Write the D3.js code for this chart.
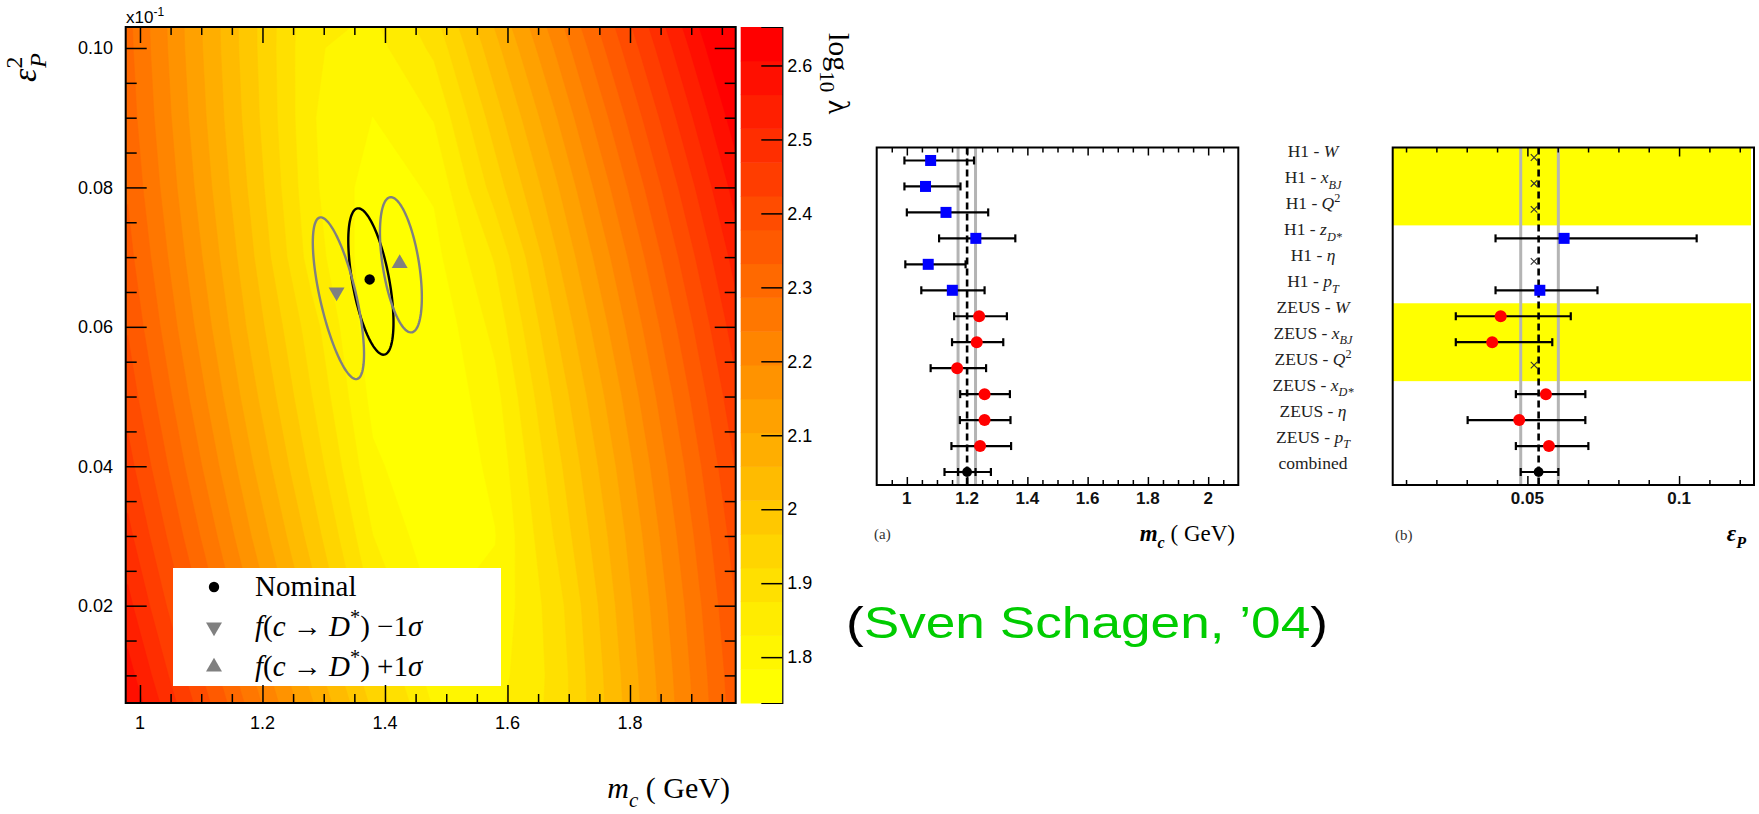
<!DOCTYPE html>
<html>
<head>
<meta charset="utf-8">
<script src="https://cdn.jsdelivr.net/npm/d3@7"></script>
<style>
  html, body { margin: 0; padding: 0; background: #fff; overflow: hidden; }
  svg { display: block; }
  text { font-family: "Liberation Sans", Arial, sans-serif; }
  .serif { font-family: "Liberation Serif", "DejaVu Serif", serif; }
</style>
</head>
<body>
<svg id="fig" width="1759" height="814"></svg>
<script>
// ---------------- data ----------------
// log10(lambda) landscape sampled on an (m_c, eps_P) grid; rows run from high eps to low eps
const gridM = [0.98, 1.08, 1.18, 1.28, 1.38, 1.48, 1.58, 1.68, 1.78, 1.88, 1.98, 2.08];
const gridEps = [0.11, 0.10, 0.09, 0.08, 0.07, 0.06, 0.05, 0.04, 0.03, 0.02, 0.01, 0.00];
const logLambda = [
  [2.295, 2.133, 1.981, 1.845, 1.845, 1.945, 2.102, 2.263, 2.427, 2.594, 2.762, 2.930],
  [2.301, 2.138, 1.983, 1.835, 1.810, 1.885, 2.043, 2.202, 2.367, 2.533, 2.700, 2.868],
  [2.311, 2.148, 1.990, 1.833, 1.783, 1.832, 1.990, 2.147, 2.311, 2.477, 2.644, 2.812],
  [2.327, 2.163, 2.004, 1.839, 1.760, 1.790, 1.942, 2.097, 2.260, 2.425, 2.592, 2.760],
  [2.348, 2.184, 2.023, 1.853, 1.754, 1.768, 1.880, 2.053, 2.214, 2.379, 2.546, 2.714],
  [2.374, 2.209, 2.047, 1.895, 1.752, 1.745, 1.844, 2.013, 2.174, 2.338, 2.505, 2.672],
  [2.405, 2.240, 2.077, 1.922, 1.769, 1.740, 1.814, 1.979, 2.138, 2.302, 2.469, 2.636],
  [2.441, 2.275, 2.112, 1.954, 1.794, 1.742, 1.795, 1.951, 2.108, 2.271, 2.437, 2.605],
  [2.483, 2.316, 2.152, 1.993, 1.830, 1.752, 1.782, 1.928, 2.083, 2.246, 2.411, 2.578],
  [2.529, 2.362, 2.198, 2.037, 1.870, 1.780, 1.795, 1.900, 2.064, 2.225, 2.390, 2.557],
  [2.580, 2.413, 2.248, 2.087, 1.935, 1.805, 1.810, 1.890, 2.049, 2.210, 2.374, 2.541],
  [2.637, 2.469, 2.304, 2.141, 1.988, 1.850, 1.828, 1.890, 2.040, 2.199, 2.363, 2.529]
];
const zMin = 1.738, zMax = 2.652, nLevels = 20;
const colorbarTicks = [1.8, 1.9, 2, 2.1, 2.2, 2.3, 2.4, 2.5, 2.6];
const mcTicks = [1, 1.2, 1.4, 1.6, 1.8];
const epsTicks = [0.02, 0.04, 0.06, 0.08, 0.10];

// fit results: nominal and f(c->D*) varied by -1 sigma / +1 sigma
const fitNames   = ["nominal", "minus", "plus"];
const fitMc      = [1.375, 1.321, 1.424];
const fitEps     = [0.0668, 0.0650, 0.0691];
const ellMc      = [1.377, 1.324, 1.426];
const ellEps     = [0.0665, 0.0641, 0.0689];
const ellSigMc   = [0.0369, 0.0418, 0.0342];
const ellSigEps  = [0.0105, 0.0116, 0.0097];
const ellRho     = [-0.56, -0.69, -0.48];

// per-distribution fits
const rowKind = ["H1","H1","H1","H1","H1","H1","ZEUS","ZEUS","ZEUS","ZEUS","ZEUS","ZEUS","comb"];
const mcVal = [1.079, 1.062, 1.130, 1.229, 1.071, 1.151, 1.240, 1.232, 1.167, 1.258, 1.258, 1.243, 1.200];
const mcLo  = [0.992, 0.992, 1.000, 1.107, 0.995, 1.048, 1.157, 1.150, 1.079, 1.177, 1.176, 1.148, 1.125];
const mcHi  = [1.223, 1.178, 1.270, 1.360, 1.195, 1.258, 1.332, 1.320, 1.263, 1.342, 1.344, 1.346, 1.279];
const mcCombinedBand = [1.170, 1.228];
const mcTicksA = [1, 1.2, 1.4, 1.6, 1.8, 2];

const epsVal = [null, null, null, 0.0621, null, 0.0541, 0.0412, 0.0384, null, 0.0561, 0.0473, 0.0571, 0.0537];
const epsLo  = [null, null, null, 0.0395, null, 0.0395, 0.0264, 0.0264, null, 0.0462, 0.0303, 0.0462, 0.0478];
const epsHi  = [null, null, null, 0.1058, null, 0.0731, 0.0643, 0.0582, null, 0.0691, 0.0691, 0.0701, 0.0602];
const epsFixed = 0.0522;
const epsCombinedBand = [0.0478, 0.0602];
const shadedRows = [[0, 2], [6, 8]];
const epsTicksB = [0.05, 0.1];

const rowLabels = [
  [{t:"H1 - "}, {t:"W", i:1}],
  [{t:"H1 - "}, {t:"x", i:1}, {t:"BJ", i:1, sub:1}],
  [{t:"H1 - "}, {t:"Q", i:1}, {t:"2", sup:1}],
  [{t:"H1 - "}, {t:"z", i:1}, {t:"D*", i:1, sub:1}],
  [{t:"H1 - "}, {t:"η", i:1}],
  [{t:"H1 - "}, {t:"p", i:1}, {t:"T", i:1, sub:1}],
  [{t:"ZEUS - "}, {t:"W", i:1}],
  [{t:"ZEUS - "}, {t:"x", i:1}, {t:"BJ", i:1, sub:1}],
  [{t:"ZEUS - "}, {t:"Q", i:1}, {t:"2", sup:1}],
  [{t:"ZEUS - "}, {t:"x", i:1}, {t:"D*", i:1, sub:1}],
  [{t:"ZEUS - "}, {t:"η", i:1}],
  [{t:"ZEUS - "}, {t:"p", i:1}, {t:"T", i:1, sub:1}],
  [{t:"combined"}]
];

// ---------------- helpers ----------------
const svg = d3.select("#fig");

function rich(sel, segs, fs) {
  let shift = 0;
  segs.forEach(s => {
    const target = s.sub ? fs * 0.3 : s.sup ? -fs * 0.42 : 0;
    const ts = sel.append("tspan").text(s.t).attr("dy", target - shift);
    if (s.dx) ts.attr("dx", s.dx);
    shift = target;
    if (s.sub || s.sup) ts.attr("font-size", fs * 0.7);
    if (s.i) ts.attr("font-style", "italic");
    if (s.b) ts.attr("font-weight", "bold");
  });
  return sel;
}

function tickRow(g, axisFn, scale, values, size) {
  g.call(axisFn(scale).tickValues(values).tickSize(size).tickFormat(""));
  g.select(".domain").remove();
  g.selectAll(".tick line").attr("stroke", "#000").attr("stroke-width", 1.5);
}

// ---------------- left panel: log10(lambda) landscape ----------------
const L = {left: 125.7, right: 735.7, top: 27, bottom: 703};
const x = d3.scaleLinear().domain([0.9767, 1.9726]).range([L.left, L.right]);
const y = d3.scaleLinear().domain([0.00604, 0.10301]).range([L.bottom, L.top]);
const zStep = (zMax - zMin) / nLevels;
const levelColor = k => d3.rgb(255, Math.round(255 * (1 - Math.pow(k / (nLevels - 1), 1.15))), 0).toString();

svg.append("defs").append("clipPath").attr("id", "landClip")
  .append("rect").attr("x", L.left).attr("y", L.top)
  .attr("width", L.right - L.left).attr("height", L.bottom - L.top);

const land = svg.append("g").attr("clip-path", "url(#landClip)");
land.append("rect").attr("x", L.left).attr("y", L.top)
  .attr("width", L.right - L.left).attr("height", L.bottom - L.top)
  .attr("fill", levelColor(0));

const nx = gridM.length, ny = gridEps.length;
const dM = gridM[1] - gridM[0], dE = gridEps[0] - gridEps[1];
const thresholds = d3.range(1, nLevels).map(k => zMin + k * zStep);
const bands = d3.contours().size([nx, ny]).thresholds(thresholds)(logLambda.flat());
const gridToPx = d3.geoTransform({
  point(u, v) {
    this.stream.point(x(gridM[0] + (u - 0.5) * dM), y(gridEps[0] - (v - 0.5) * dE));
  }
});
const bandPath = d3.geoPath(gridToPx);
land.selectAll("path.band").data(bands).join("path")
  .attr("class", "band")
  .attr("d", bandPath)
  .attr("fill", (d, i) => levelColor(i + 1))
  .attr("stroke", (d, i) => levelColor(i + 1))
  .attr("stroke-width", 0.6);

// fit ellipses
const ellColor = ["#000", "#808080", "#808080"];
const ellLine = d3.line().curve(d3.curveLinearClosed);
const ang = d3.range(0, 360, 3).map(a => a * Math.PI / 180);
fitNames.forEach((n, k) => {
  const delta = Math.acos(ellRho[k]);
  const pts = ang.map(t => [
    x(ellMc[k] + ellSigMc[k] * Math.cos(t)),
    y(ellEps[k] + ellSigEps[k] * Math.cos(t - delta))
  ]);
  land.append("path").attr("d", ellLine(pts)).attr("fill", "none")
    .attr("stroke", ellColor[k]).attr("stroke-width", 2.4);
});

const triUp = d3.symbol().type(d3.symbolTriangle).size(110);
function drawFitMarker(g, k, px, py) {
  if (k === 0) {
    g.append("circle").attr("cx", px).attr("cy", py).attr("r", 5.2).attr("fill", "#000");
  } else {
    g.append("path").attr("d", triUp())
      .attr("transform", `translate(${px},${py})` + (k === 1 ? " rotate(180)" : ""))
      .attr("fill", "#808080");
  }
}
fitNames.forEach((n, k) => drawFitMarker(land, k, x(fitMc[k]), y(fitEps[k])));

// legend
const leg = svg.append("g");
leg.append("rect").attr("x", 173).attr("y", 568).attr("width", 328).attr("height", 118).attr("fill", "#fff");
const legRows = [
  [{t:"Nominal"}],
  [{t:"f", i:1}, {t:"("}, {t:"c", i:1}, {t:" → "}, {t:"D", i:1}, {t:"*", sup:1}, {t:") −1"}, {t:"σ", i:1}],
  [{t:"f", i:1}, {t:"("}, {t:"c", i:1}, {t:" → "}, {t:"D", i:1}, {t:"*", sup:1}, {t:") +1"}, {t:"σ", i:1}]
];
const legY = [587, 627, 667];
legRows.forEach((segs, k) => {
  drawFitMarker(leg, k, 214, legY[k]);
  rich(leg.append("text").attr("class", "serif").attr("x", 255).attr("y", legY[k] + 9)
    .attr("font-size", 29).attr("fill", "#000"), segs, 29);
});

// ticks on all four sides
const mcMinor = d3.range(20, 40).map(i => i * 0.05).filter(v => v <= 1.9726 && !mcTicks.some(t => Math.abs(t - v) < 1e-9));
const epsMinor = d3.range(2, 21).map(i => i * 0.005).filter(v => !epsTicks.some(t => Math.abs(t - v) < 1e-9));
tickRow(svg.append("g").attr("transform", `translate(0,${L.bottom})`), d3.axisBottom, x, mcTicks, -18);
tickRow(svg.append("g").attr("transform", `translate(0,${L.bottom})`), d3.axisBottom, x, mcMinor, -9);
tickRow(svg.append("g").attr("transform", `translate(0,${L.top})`), d3.axisTop, x, mcTicks, -16);
tickRow(svg.append("g").attr("transform", `translate(0,${L.top})`), d3.axisTop, x, mcMinor, -8);
tickRow(svg.append("g").attr("transform", `translate(${L.left},0)`), d3.axisLeft, y, epsTicks, -21);
tickRow(svg.append("g").attr("transform", `translate(${L.left},0)`), d3.axisLeft, y, epsMinor, -11);
tickRow(svg.append("g").attr("transform", `translate(${L.right},0)`), d3.axisRight, y, epsTicks, -21);
tickRow(svg.append("g").attr("transform", `translate(${L.right},0)`), d3.axisRight, y, epsMinor, -11);

svg.append("rect").attr("x", L.left).attr("y", L.top)
  .attr("width", L.right - L.left).attr("height", L.bottom - L.top)
  .attr("fill", "none").attr("stroke", "#000").attr("stroke-width", 2);

svg.append("g").selectAll("text").data(mcTicks).join("text")
  .attr("x", d => x(d)).attr("y", 729).attr("text-anchor", "middle")
  .attr("font-size", 18).attr("fill", "#000").text(d => d);
svg.append("g").selectAll("text").data(epsTicks).join("text")
  .attr("x", 113).attr("y", d => y(d) + 6.5).attr("text-anchor", "end")
  .attr("font-size", 18).attr("fill", "#000").text(d => d3.format(".2f")(d));

const mult = svg.append("text").attr("x", 126).attr("y", 23).attr("font-size", 17).attr("fill", "#000");
mult.append("tspan").text("x10");
mult.append("tspan").text("-1").attr("font-size", 12).attr("dy", -7);

rich(svg.append("text").attr("class", "serif").attr("x", 730).attr("y", 798)
  .attr("text-anchor", "end").attr("font-size", 30).attr("fill", "#000"),
  [{t:"m", i:1}, {t:"c", i:1, sub:1}, {t:" ( GeV)"}], 30);

rich(svg.append("text").attr("class", "serif")
  .attr("transform", "translate(36,82) rotate(-90)")
  .attr("font-size", 34).attr("fill", "#000"),
  [{t:"ε", i:1}, {t:"2", sup:1}, {t:"P", i:1, sub:1, dx:-11}], 34);

// colour bar
const CB = {left: 740.7, right: 782.3};
const cy = d3.scaleLinear().domain([zMin, zMax]).range([L.bottom, L.top]);
svg.append("g").selectAll("rect").data(d3.range(nLevels)).join("rect")
  .attr("x", CB.left).attr("width", CB.right - CB.left)
  .attr("y", k => cy(zMin + (k + 1) * zStep))
  .attr("height", k => cy(zMin + k * zStep) - cy(zMin + (k + 1) * zStep) + 0.5)
  .attr("fill", k => levelColor(k));
const cbAxis = svg.append("g").attr("transform", `translate(${CB.right},0)`)
  .call(d3.axisRight(cy).tickValues(colorbarTicks).tickSize(-21).tickPadding(5).tickFormat(d => d));
cbAxis.select(".domain").attr("stroke", "#000").attr("stroke-width", 1.2);
cbAxis.selectAll(".tick line").attr("stroke", "#000").attr("stroke-width", 1.5);
cbAxis.selectAll(".tick text").attr("font-size", 18).attr("fill", "#000")
  .attr("font-family", "Liberation Sans, Arial, sans-serif");

rich(svg.append("text").attr("class", "serif")
  .attr("transform", "translate(829,33) rotate(90)")
  .attr("font-size", 30).attr("fill", "#000"),
  [{t:"log"}, {t:"10", sub:1}, {t:" λ"}], 30);

// ---------------- panels (a) and (b) ----------------
const PTOP = 147.5, PBOT = 485;
const rowY = d3.scaleLinear().domain([-0.5, 12.5]).range([PTOP, PBOT]);
const rows = d3.range(rowKind.length);

function errorBar(g, sx, r, lo, hi, capH) {
  g.append("line").attr("x1", sx(lo)).attr("x2", sx(hi)).attr("y1", rowY(r)).attr("y2", rowY(r))
    .attr("stroke", "#000").attr("stroke-width", 2.2);
  [lo, hi].forEach(v => g.append("line").attr("x1", sx(v)).attr("x2", sx(v))
    .attr("y1", rowY(r) - capH).attr("y2", rowY(r) + capH)
    .attr("stroke", "#000").attr("stroke-width", 2.2));
}
function marker(g, sx, r, v, kind) {
  if (kind === "H1") {
    g.append("rect").attr("x", sx(v) - 5.5).attr("y", rowY(r) - 5.5).attr("width", 11).attr("height", 11).attr("fill", "#0000ff");
  } else if (kind === "ZEUS") {
    g.append("circle").attr("cx", sx(v)).attr("cy", rowY(r)).attr("r", 6).attr("fill", "#ff0000");
  } else {
    g.append("circle").attr("cx", sx(v)).attr("cy", rowY(r)).attr("r", 4.9).attr("fill", "#000");
  }
}
function panelFrame(g, P, sx, major, minor, majLen, minLen) {
  tickRow(g.append("g").attr("transform", `translate(0,${P.bottom})`), d3.axisBottom, sx, major, -majLen);
  tickRow(g.append("g").attr("transform", `translate(0,${P.bottom})`), d3.axisBottom, sx, minor, -minLen);
  tickRow(g.append("g").attr("transform", `translate(0,${P.top})`), d3.axisTop, sx, major, -majLen);
  tickRow(g.append("g").attr("transform", `translate(0,${P.top})`), d3.axisTop, sx, minor, -minLen);
  g.append("rect").attr("x", P.left).attr("y", P.top).attr("width", P.right - P.left).attr("height", P.bottom - P.top)
    .attr("fill", "none").attr("stroke", "#000").attr("stroke-width", 2);
}

// (a) m_c
const A = {left: 876.7, right: 1238.3, top: PTOP, bottom: PBOT};
const xa = d3.scaleLinear().domain([0.9, 2.1]).range([A.left, A.right]);
const ga = svg.append("g");
mcCombinedBand.forEach(v => ga.append("line").attr("x1", xa(v)).attr("x2", xa(v)).attr("y1", A.top).attr("y2", A.bottom)
  .attr("stroke", "#b4b4b4").attr("stroke-width", 3));
ga.append("line").attr("x1", xa(mcVal[12])).attr("x2", xa(mcVal[12])).attr("y1", A.top).attr("y2", A.bottom)
  .attr("stroke", "#000").attr("stroke-width", 2.6).attr("stroke-dasharray", "7,4");
rows.forEach(r => {
  errorBar(ga, xa, r, mcLo[r], mcHi[r], 4);
  if (rowKind[r] === "comb") errorBar(ga, xa, r, mcCombinedBand[0], mcCombinedBand[1], 4);
  marker(ga, xa, r, mcVal[r], rowKind[r]);
});
panelFrame(ga, A, xa, mcTicksA, d3.range(19, 42).map(i => i * 0.05).filter(v => !mcTicksA.some(t => Math.abs(t - v) < 1e-9)), 8, 5);
ga.append("g").selectAll("text").data(mcTicksA).join("text")
  .attr("x", d => xa(d)).attr("y", 504).attr("text-anchor", "middle")
  .attr("font-size", 17).attr("font-weight", "bold").attr("fill", "#111").text(d => d);
ga.append("text").attr("class", "serif").attr("x", 874).attr("y", 539).attr("font-size", 15).attr("fill", "#333").text("(a)");
rich(ga.append("text").attr("class", "serif").attr("x", 1235).attr("y", 541).attr("text-anchor", "end")
  .attr("font-size", 23).attr("fill", "#000"),
  [{t:"m", i:1, b:1}, {t:"c", i:1, b:1, sub:1}, {t:" ( GeV)"}], 23);

// (b) eps_P
const B = {left: 1392.7, right: 1754, top: PTOP, bottom: PBOT};
const xb = d3.scaleLinear().domain([0.0056, 0.1247]).range([B.left, B.right]);
const gb = svg.append("g");
shadedRows.forEach(([r0, r1]) => gb.append("rect").attr("x", B.left).attr("width", B.right - B.left - 3)
  .attr("y", rowY(r0 - 0.5)).attr("height", rowY(r1 + 0.5) - rowY(r0 - 0.5)).attr("fill", "#ffff00"));
epsCombinedBand.forEach(v => gb.append("line").attr("x1", xb(v)).attr("x2", xb(v)).attr("y1", B.top).attr("y2", B.bottom)
  .attr("stroke", "#b4b4b4").attr("stroke-width", 3));
gb.append("line").attr("x1", xb(epsVal[12])).attr("x2", xb(epsVal[12])).attr("y1", B.top).attr("y2", B.bottom)
  .attr("stroke", "#000").attr("stroke-width", 2.6).attr("stroke-dasharray", "7,4");
rows.forEach(r => {
  if (epsVal[r] === null) {
    const cx = xb(epsFixed), cyy = rowY(r) - 3, s = 3.3;
    gb.append("path").attr("d", `M${cx - s},${cyy - s}L${cx + s},${cyy + s}M${cx - s},${cyy + s}L${cx + s},${cyy - s}`)
      .attr("stroke", "#333").attr("stroke-width", 1.1);
  } else {
    errorBar(gb, xb, r, epsLo[r], epsHi[r], 4);
    marker(gb, xb, r, epsVal[r], rowKind[r]);
  }
});
panelFrame(gb, B, xb, epsTicksB, d3.range(1, 13).map(i => i * 0.01).filter(v => !epsTicksB.some(t => Math.abs(t - v) < 1e-9)), 9, 5);
gb.append("g").selectAll("text").data(epsTicksB).join("text")
  .attr("x", d => xb(d)).attr("y", 504).attr("text-anchor", "middle")
  .attr("font-size", 17).attr("font-weight", "bold").attr("fill", "#111").text(d => d);
gb.append("text").attr("class", "serif").attr("x", 1395).attr("y", 540).attr("font-size", 15).attr("fill", "#333").text("(b)");
rich(gb.append("text").attr("class", "serif").attr("x", 1746).attr("y", 541).attr("text-anchor", "end")
  .attr("font-size", 23).attr("fill", "#000"),
  [{t:"ε", i:1, b:1}, {t:"P", i:1, b:1, sub:1}], 23);

// row labels between the panels
rows.forEach(r => {
  rich(svg.append("text").attr("class", "serif").attr("x", 1313).attr("y", rowY(r) - 3)
    .attr("text-anchor", "middle").attr("font-size", 17.5).attr("fill", "#222"), rowLabels[r], 17.5);
});

// attribution
const cred = svg.append("text").attr("x", 846).attr("y", 638).attr("font-size", 45)
  .attr("font-family", "DejaVu Sans, sans-serif").attr("font-weight", 300)
  .attr("textLength", 482).attr("lengthAdjust", "spacingAndGlyphs");
cred.append("tspan").attr("fill", "#000").text("(");
cred.append("tspan").attr("fill", "#00cc00").text("Sven Schagen, ’04");
cred.append("tspan").attr("fill", "#000").text(")");
</script>
</body>
</html>
